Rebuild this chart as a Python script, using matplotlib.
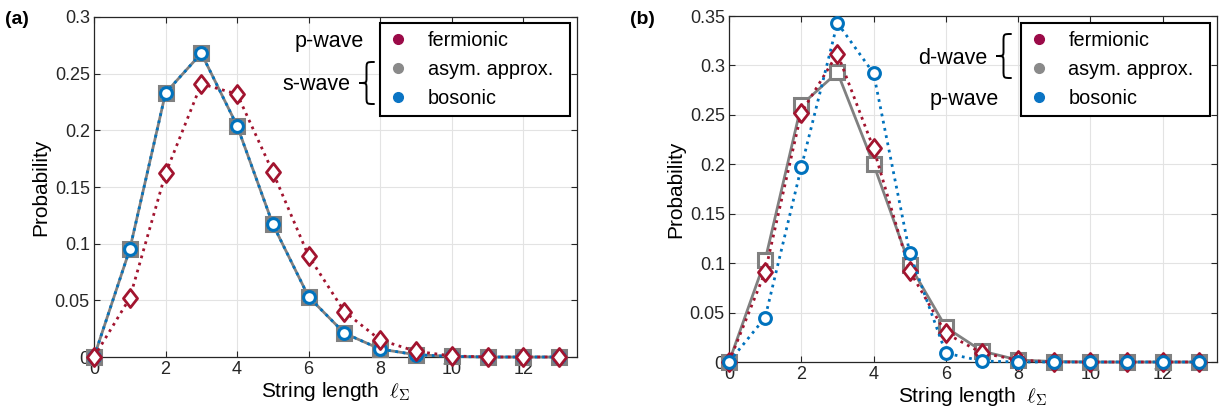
import numpy as np
import matplotlib
matplotlib.use("Agg")
import matplotlib.pyplot as plt
from matplotlib.lines import Line2D
from matplotlib.path import Path
from matplotlib.patches import PathPatch
from matplotlib.ticker import FuncFormatter

plt.rcParams["font.family"] = ["Liberation Sans", "DejaVu Sans"]
plt.rcParams["mathtext.fontset"] = "cm"

# データ
string_len = np.arange(14)

# (a) p-wave fermionic / s-wave
a_fermionic = [0, 0.052, 0.162, 0.241, 0.232, 0.163, 0.089, 0.040, 0.015, 0.005, 0.001, 0, 0, 0]
a_asym = [0, 0.095, 0.233, 0.268, 0.204, 0.117, 0.053, 0.021, 0.007, 0.002, 0.0005, 0, 0, 0]
a_bosonic = [0, 0.095, 0.233, 0.268, 0.204, 0.117, 0.053, 0.021, 0.007, 0.002, 0.0005, 0, 0, 0]

# (b) d-wave / p-wave bosonic
b_fermionic = [0, 0.091, 0.252, 0.312, 0.216, 0.092, 0.029, 0.009, 0.002, 0, 0, 0, 0, 0]
b_asym = [0, 0.103, 0.260, 0.293, 0.200, 0.098, 0.035, 0.011, 0.002, 0.0005, 0, 0, 0, 0]
b_bosonic = [0, 0.045, 0.197, 0.343, 0.292, 0.110, 0.009, 0.001, 0, 0, 0, 0, 0, 0]

legend_labels = ["fermionic", "asym. approx.", "bosonic"]

c_ferm = "#A2142F"
c_asym = "#808080"
c_bos = "#0072BD"
leg_colors = ["#9B0A48", "#8a8a8a", "#0A74C4"]

# MATLAB風のダイヤ
diamond = Path([(0, 1), (0.78, 0), (0, -1), (-0.78, 0), (0, 1)],
               [Path.MOVETO, Path.LINETO, Path.LINETO, Path.LINETO, Path.CLOSEPOLY])

W, H = 1219, 411
fig = plt.figure(figsize=(W / 100, H / 100), dpi=100)


def px(x0, y0, x1, y1):
    return [x0 / W, 1 - y1 / H, (x1 - x0) / W, (y1 - y0) / H]


def brace(xt, xr, y0, y1):
    # 左向きの波括弧をピクセル座標で描く
    xm = (xt + xr) / 2
    ym = (y0 + y1) / 2
    h = y1 - y0
    pts = [(xr, y0), (xm, y0), (xm, y0), (xm, y0 + 0.18 * h),
           (xm, ym - 0.12 * h),
           (xm, ym), (xm, ym), (xt, ym),
           (xm, ym), (xm, ym), (xm, ym + 0.12 * h),
           (xm, y1 - 0.18 * h),
           (xm, y1), (xm, y1), (xr, y1)]
    codes = [Path.MOVETO, Path.CURVE4, Path.CURVE4, Path.CURVE4,
             Path.LINETO,
             Path.CURVE4, Path.CURVE4, Path.CURVE4,
             Path.CURVE4, Path.CURVE4, Path.CURVE4,
             Path.LINETO,
             Path.CURVE4, Path.CURVE4, Path.CURVE4]
    pts = [(x / W, 1 - y / H) for x, y in pts]
    fig.add_artist(PathPatch(Path(pts, codes), fill=False, lw=1.4, color="black",
                             transform=fig.transFigure, capstyle="round"))


ax_a = fig.add_axes(px(94, 17, 577, 357))
ax_b = fig.add_axes(px(729, 16, 1217, 362))


def plot_ferm(ax, y):
    ax.plot(string_len, y, ":", color=c_ferm, lw=2, marker=diamond, ms=13,
            mec=c_ferm, mfc="white", mew=2, zorder=5, clip_on=False)


def plot_asym(ax, y):
    ax.plot(string_len, y, "-", color=c_asym, lw=2, marker="s", ms=10,
            mec=c_asym, mfc="white", mew=2.2, zorder=3, clip_on=False)


def plot_bos(ax, y, z):
    ax.plot(string_len, y, ":", color=c_bos, lw=2, marker="o", ms=8.5,
            mec=c_bos, mfc="white", mew=2.2, zorder=z, clip_on=False)


plot_asym(ax_a, a_asym)
plot_bos(ax_a, a_bosonic, 4)
plot_ferm(ax_a, a_fermionic)

plot_asym(ax_b, b_asym)
plot_ferm(ax_b, b_fermionic)
plot_bos(ax_b, b_bosonic, 6)

handles = [Line2D([], [], ls="none", marker="o", ms=7, color=c) for c in leg_colors]

for ax, ymax, leg_box in [
    (ax_a, 0.3, (0.592, 0.715, 0.394, 0.267)),
    (ax_b, 0.35, (0.598, 0.714, 0.387, 0.266)),
]:
    ax.set_xlim(0, 13.5)
    ax.set_ylim(0, ymax)
    ax.set_xticks(np.arange(0, 13, 2))
    ax.set_yticks(np.arange(0, ymax + 1e-9, 0.05))
    ax.yaxis.set_major_formatter(FuncFormatter(lambda v, p: "%g" % round(v, 3)))
    ax.grid(True, color="#e3e3e3", lw=0.8)
    ax.set_axisbelow(True)
    ax.tick_params(direction="in", top=True, right=True, length=4, width=0.8,
                   labelsize=13, colors="#262626", labelcolor="#262626", pad=3)
    for s in ax.spines.values():
        s.set_color("#262626")
        s.set_linewidth(0.9)
    ax.set_xlabel(r"String length  $\ell_\Sigma$", fontsize=15, labelpad=1)
    ax.set_ylabel("Probability", fontsize=15, labelpad=3)
    leg = ax.legend(handles, legend_labels, loc="upper left", bbox_to_anchor=leg_box,
                    mode="expand", borderaxespad=0, fontsize=14.3, fancybox=False,
                    framealpha=1, edgecolor="black", handlelength=1.0,
                    handletextpad=1.0, labelspacing=0.5, borderpad=0.4)
    leg.get_frame().set_linewidth(1.5)
    leg.set_zorder(10)

# パネルラベル
fig.text(5 / W, 1 - 19 / H, "(a)", fontsize=14, fontweight="bold", va="center")
fig.text(630 / W, 1 - 19 / H, "(b)", fontsize=14, fontweight="bold", va="center")

# 波の種類の注釈
fig.text(364 / W, 1 - 42 / H, "p-wave", fontsize=15.5, ha="right", va="center")
fig.text(350 / W, 1 - 84 / H, "s-wave", fontsize=15.5, ha="right", va="center")
brace(359, 374, 62, 104)

fig.text(987 / W, 1 - 59 / H, "d-wave", fontsize=15.5, ha="right", va="center")
fig.text(999 / W, 1 - 99 / H, "p-wave", fontsize=15.5, ha="right", va="center")
brace(996, 1011, 34, 78)

fig.savefig("out.png", dpi=100)
